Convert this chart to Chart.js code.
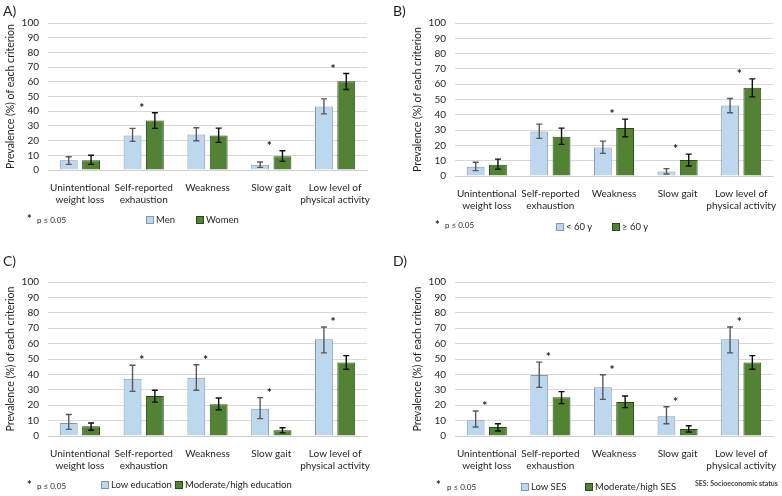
<!DOCTYPE html>
<html>
<head>
<meta charset="utf-8">
<script src="https://cdn.jsdelivr.net/npm/chart.js@4.4.1/dist/chart.umd.min.js"></script>
<style>
  body { margin: 0; background: #fff; width: 782px; height: 496px; position: relative; overflow: hidden; font-family: Lato, "Open Sans", sans-serif; color: #1f1f1f; }
  .panel { position: absolute; width: 391px; height: 248px; }
  .tag { position: absolute; font-size: 14px; }
  .star { position: absolute; font-size: 11px; font-weight: bold; line-height: 11px; }
  .note { position: absolute; font-size: 8px; line-height: 8px; white-space: nowrap; }
  .ses { position: absolute; font-size: 7px; line-height: 7px; font-weight: bold; color: #404040; white-space: nowrap; }
  .leg-item { position: absolute; display: flex; align-items: center; font-size: 9.5px; line-height: 10px; white-space: nowrap; }
  .leg-box { width: 6px; height: 6px; margin-right: 2px; border: 1px solid; }
</style>
</head>
<body>
<div class="panel" style="left:0;top:0"><canvas id="chartA"></canvas></div>
<div class="panel" style="left:391px;top:0"><canvas id="chartB"></canvas></div>
<div class="panel" style="left:0;top:248px"><canvas id="chartC"></canvas></div>
<div class="panel" style="left:391px;top:248px"><canvas id="chartD"></canvas></div>
<div id="legends"></div>

<div class="tag" style="left:3px;top:2px">A)</div>
<div class="tag" style="left:393px;top:2px">B)</div>
<div class="tag" style="left:3px;top:252px">C)</div>
<div class="tag" style="left:393px;top:252px">D)</div>

<div class="star" style="left:27px;top:213px">*</div><div class="note" style="left:37px;top:216px">p ≤ 0.05</div>
<div class="star" style="left:435px;top:219px">*</div><div class="note" style="left:445px;top:221px">p ≤ 0.05</div>
<div class="star" style="left:27px;top:479px">*</div><div class="note" style="left:37px;top:482px">p ≤ 0.05</div>
<div class="star" style="left:436px;top:479px">*</div><div class="note" style="left:447px;top:483px">p ≤ 0.05</div>
<div class="ses" style="left:695px;top:480px">SES: Socioeconomic status</div>

<script>
const categories = [['Unintentional', 'weight loss'], ['Self-reported', 'exhaustion'], ['Weakness'], ['Slow gait'], ['Low level of', 'physical activity']];

// A) sex
const menPrev = [6.6, 23.5, 24.2, 3.6, 43.2];
const menLow = [3.8, 19.5, 19.9, 1.8, 38.2];
const menHigh = [9, 28.3, 28.7, 5.4, 48.4];
const womenPrev = [6.6, 33.7, 23.5, 9.3, 60.4];
const womenLow = [3.8, 28.3, 18.8, 5.9, 54.8];
const womenHigh = [10, 38.9, 28.5, 13.1, 65.6];
const sexSig = [0, 1, 0, 1, 1];

// B) age
const youngPrev = [6.1, 29.1, 18.7, 3, 46.1];
const youngLow = [3.5, 24.6, 14.8, 1.3, 41.3];
const youngHigh = [9, 33.9, 22.8, 4.8, 50.7];
const oldPrev = [7.4, 25.7, 31.3, 10.4, 57.6];
const oldLow = [4.5, 20.7, 25.7, 6.5, 51.7];
const oldHigh = [11, 31.3, 37.2, 14.3, 63.5];
const ageSig = [0, 0, 1, 1, 1];

// C) education
const lowEduPrev = [8.4, 37.2, 37.9, 17.7, 62.8];
const lowEduLow = [4.3, 29, 29.7, 11.3, 54];
const lowEduHigh = [14, 45.9, 46.3, 24.9, 70.8];
const highEduPrev = [6.3, 26, 20.6, 3.7, 47.8];
const highEduLow = [3.7, 22, 17, 2, 43.3];
const highEduHigh = [8.4, 29.7, 24.7, 5.4, 52.2];
const eduSig = [0, 1, 1, 1, 1];

// D) socioeconomic status
const lowSesPrev = [10.2, 39.6, 31.6, 12.8, 62.8];
const lowSesLow = [5.8, 31.6, 23.8, 8, 54];
const lowSesHigh = [16.2, 48, 39.8, 19, 70.8];
const highSesPrev = [5.8, 25.1, 22, 4.5, 47.8];
const highSesLow = [3.2, 21, 18.4, 2.6, 43.3];
const highSesHigh = [8, 28.8, 26, 6.7, 52.2];
const sesSig = [1, 1, 1, 1, 1];

const yMin = 0, yMax = 100, yStep = 10;

const FONT = 'Lato, "Open Sans", sans-serif';
const BLUE = '#bdd7ee', BLUE_EDGE = '#8497b0';
const GREEN = '#548235', GREEN_EDGE = '#2b4a1b';

// error bars + significance stars
const errorBars = {
  id: 'errorBars',
  afterDatasetsDraw(chart, args, opts) {
    const ctx = chart.ctx;
    const y = chart.scales.y;
    const x = chart.scales.x;
    ctx.save();
    chart.data.datasets.forEach((ds, i) => {
      chart.getDatasetMeta(i).data.forEach((bar, j) => {
        const top = y.getPixelForValue(ds.errHigh[j]);
        const bot = y.getPixelForValue(ds.errLow[j]);
        ctx.strokeStyle = ds.errColor;
        ctx.lineWidth = 1.4;
        ctx.beginPath();
        ctx.moveTo(bar.x, top); ctx.lineTo(bar.x, bot);
        ctx.moveTo(bar.x - 3, top); ctx.lineTo(bar.x + 3, top);
        ctx.moveTo(bar.x - 3, bot); ctx.lineTo(bar.x + 3, bot);
        ctx.stroke();
      });
    });
    ctx.fillStyle = '#111';
    ctx.font = 'bold 12px ' + FONT;
    ctx.textAlign = 'center';
    ctx.textBaseline = 'alphabetic';
    opts.signif.forEach((s, j) => {
      if (!s) return;
      const hi = Math.max(...chart.data.datasets.map(ds => ds.errHigh[j]));
      ctx.fillText('*', x.getPixelForValue(j) - 2, y.getPixelForValue(hi) - 1);
    });
    ctx.restore();
  }
};

// html legend built from the chart's datasets
const htmlLegend = {
  id: 'htmlLegend',
  afterUpdate(chart, args, opts) {
    const host = document.getElementById('legends');
    chart.data.datasets.forEach((ds, i) => {
      const item = document.createElement('div');
      item.className = 'leg-item';
      item.style.left = opts.xs[i] + 'px';
      item.style.top = (opts.y - 5) + 'px';
      const box = document.createElement('span');
      box.className = 'leg-box';
      box.style.background = ds.backgroundColor;
      box.style.borderColor = ds.borderColor;
      item.appendChild(box);
      item.appendChild(document.createTextNode(ds.label));
      host.appendChild(item);
    });
  }
};

function makePanel(id, names, s1, s2, sig, lay) {
  new Chart(document.getElementById(id), {
    type: 'bar',
    data: {
      labels: categories,
      datasets: [
        { label: names[0], data: s1[0], errLow: s1[1], errHigh: s1[2], errColor: '#595959',
          backgroundColor: BLUE, borderColor: BLUE_EDGE, borderWidth: 1 },
        { label: names[1], data: s2[0], errLow: s2[1], errHigh: s2[2], errColor: '#0d0d0d',
          backgroundColor: GREEN, borderColor: GREEN_EDGE, borderWidth: 1 }
      ]
    },
    options: {
      responsive: true,
      maintainAspectRatio: false,
      animation: false,
      categoryPercentage: 0.7,
      barPercentage: 0.8,
      layout: { padding: { left: lay.left, right: lay.right, top: lay.top, bottom: lay.bottom } },
      plugins: {
        legend: { display: false },
        tooltip: { enabled: false },
        errorBars: { signif: sig },
        htmlLegend: { xs: lay.legendX, y: lay.legendY }
      },
      scales: {
        x: {
          grid: { display: false },
          border: { color: '#d0d0d0' },
          ticks: { color: '#1f1f1f', font: { family: FONT, size: 10 }, padding: 4, maxRotation: 0, autoSkip: false },
          afterFit: (scale) => { scale.height = 40; }
        },
        y: {
          min: yMin, max: yMax,
          ticks: { stepSize: yStep, autoSkip: false, color: '#262626', font: { family: FONT, size: 10 }, padding: 9 },
          grid: { color: '#d9d9d9', drawTicks: false },
          border: { display: false },
          title: { display: true, text: 'Prevalence (%) of each criterion', color: '#1f1f1f', font: { family: FONT, size: 10.5 }, padding: { top: 4, bottom: 0 } },
          afterFit: (scale) => { scale.width = 48; }
        }
      }
    },
    plugins: [errorBars, htmlLegend]
  });
}

makePanel('chartA', ['Men', 'Women'], [menPrev, menLow, menHigh], [womenPrev, womenLow, womenHigh], sexSig,
  { left: 0, right: 24, top: 23, bottom: 38, legendX: [146, 196], legendY: 220 });
makePanel('chartB', ['< 60 y', '≥ 60 y'], [youngPrev, youngLow, youngHigh], [oldPrev, oldLow, oldHigh], ageSig,
  { left: 16, right: 9, top: 23, bottom: 32, legendX: [556, 612], legendY: 227 });
makePanel('chartC', ['Low education', 'Moderate/high education'], [lowEduPrev, lowEduLow, lowEduHigh], [highEduPrev, highEduLow, highEduHigh], eduSig,
  { left: 0, right: 24, top: 34, bottom: 20, legendX: [101, 175], legendY: 485 });
makePanel('chartD', ['Low SES', 'Moderate/high SES'], [lowSesPrev, lowSesLow, lowSesHigh], [highSesPrev, highSesLow, highSesHigh], sesSig,
  { left: 16, right: 9, top: 34, bottom: 20, legendX: [521, 585], legendY: 487 });
</script>
</body>
</html>
